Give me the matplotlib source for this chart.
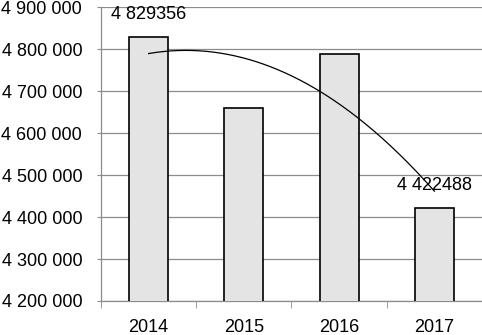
import numpy as np
import matplotlib
matplotlib.use('Agg')
import matplotlib.pyplot as plt

years = ['2014', '2015', '2016', '2017']
values = [4829356, 4660800, 4788100, 4422488]
labelled = {0: '4 829356', 3: '4 422488'}
y_ticks = [4200000, 4300000, 4400000, 4500000, 4600000, 4700000, 4800000, 4900000]

plt.rcParams['font.family'] = ['Liberation Sans', 'DejaVu Sans']

fig = plt.figure(figsize=(4.82, 3.35), dpi=100)
ax = fig.add_axes([0.2095, 0.1015, 0.7905, 0.8765])

x = np.arange(len(years))
ax.bar(x, values, width=0.41, color='#e4e4e4', edgecolor='black', linewidth=1.2, zorder=3)

# polynomial trendline (order 2), like the spreadsheet one
coef = np.polyfit(x, values, 2)
xs = np.linspace(0, len(years) - 1, 200)
ax.plot(xs, np.polyval(coef, xs), color='black', linewidth=0.9, zorder=4)

for i, txt in labelled.items():
    ax.annotate(txt, (x[i], values[i]), xytext=(0, 10), textcoords='offset points',
                ha='center', va='bottom', fontsize=13, zorder=5)

ax.set_xlim(-0.5, len(years) - 0.5)
ax.set_ylim(y_ticks[0], y_ticks[-1])
ax.set_yticks(y_ticks)
ax.set_yticklabels(['{:,}'.format(v).replace(',', ' ') for v in y_ticks], fontsize=13)
ax.set_xticks(x)
ax.set_xticklabels(years, fontsize=13)
ax.set_xticks(np.arange(-0.5, len(years)), minor=True)
ax.tick_params(axis='x', which='major', length=0, pad=13)
ax.tick_params(axis='x', which='minor', length=5, color='#8c8c8c')
ax.tick_params(axis='y', length=3, color='#8c8c8c', pad=10.5)

ax.grid(axis='y', color='#8c8c8c', linewidth=0.9, zorder=0)
for s in ['top', 'right']:
    ax.spines[s].set_visible(False)
for s in ['left', 'bottom']:
    ax.spines[s].set_color('#8c8c8c')
    ax.spines[s].set_linewidth(0.9)

plt.savefig('out.png', dpi=100)
